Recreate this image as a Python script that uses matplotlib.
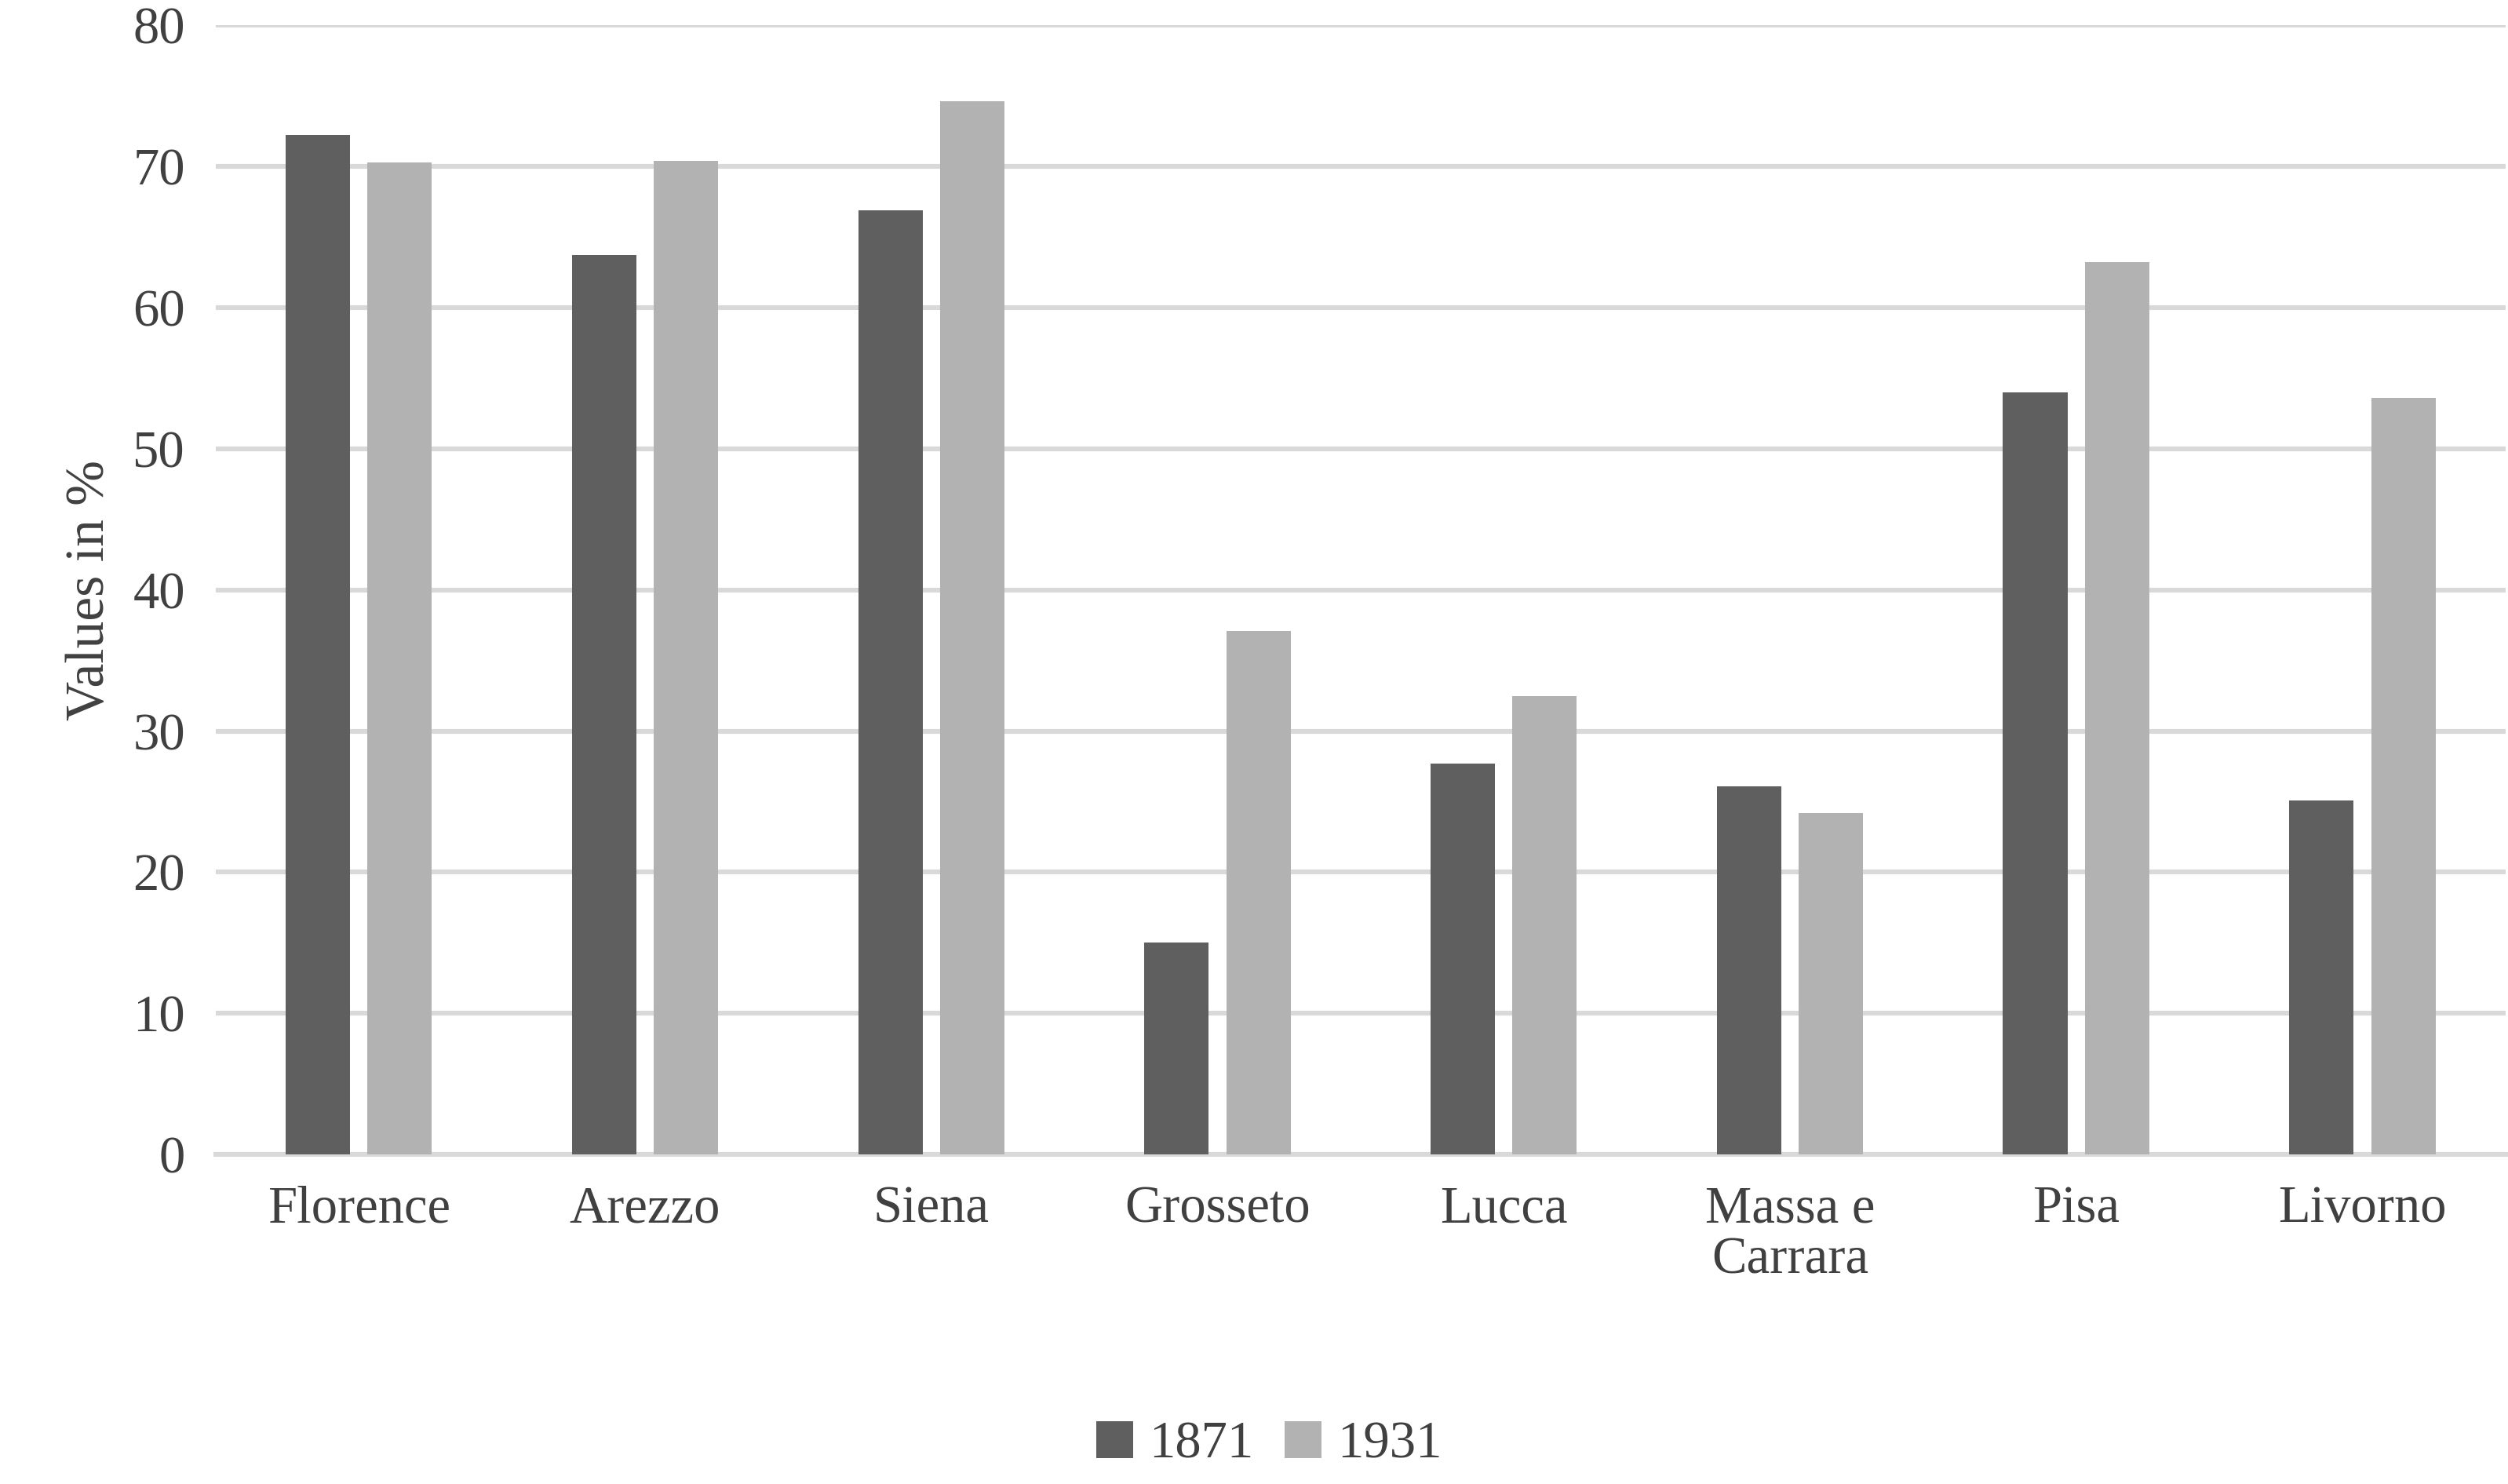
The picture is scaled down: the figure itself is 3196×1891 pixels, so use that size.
import matplotlib
matplotlib.use("Agg")
import matplotlib.pyplot as plt
import numpy as np

categories = ["Florence", "Arezzo", "Siena", "Grosseto", "Lucca", "Massa e\nCarrara", "Pisa", "Livorno"]
v1871 = [72.2, 63.7, 66.9, 15.0, 27.7, 26.1, 54.0, 25.1]
v1931 = [70.3, 70.4, 74.6, 37.1, 32.5, 24.2, 63.2, 53.6]

plt.rcParams['font.family'] = ['Liberation Serif', 'DejaVu Serif']
fig = plt.figure(figsize=(15.98, 9.455), dpi=200)
ax = fig.add_axes([0.086, 0.222, 0.913, 0.761])
x = np.arange(len(categories))
w = 0.225
ax.bar(x - 0.143, v1871, w, color='#5f5f5f', label='1871', zorder=3)
ax.bar(x + 0.143, v1931, w, color='#b2b2b2', label='1931', zorder=3)
ax.set_xlim(-0.5, len(categories) - 0.5)
ax.set_ylim(0, 80)
ax.set_yticks(range(0, 81, 10))
ax.yaxis.grid(True, color='#d9d9d9', linewidth=2.2, zorder=0)
ax.set_axisbelow(True)
for s in ['top', 'right', 'left']:
    ax.spines[s].set_visible(False)
ax.spines['bottom'].set_color('#d9d9d9')
ax.spines['bottom'].set_linewidth(2.2)
ax.set_xticks(x)
ax.set_xticklabels(categories, fontsize=24, color='#404040', linespacing=1.1)
ax.tick_params(axis='both', length=0, labelsize=24, colors='#404040', pad=14)
ax.set_ylabel('Values in %', fontsize=25, color='#404040', labelpad=8)
ax.legend(loc='lower center', bbox_to_anchor=(0.46, -0.32), ncol=2, frameon=False,
          fontsize=24, handlelength=0.7, handleheight=0.7, columnspacing=0.6, handletextpad=0.3,
          labelcolor='#404040')
fig.savefig('out.png', dpi=200)
